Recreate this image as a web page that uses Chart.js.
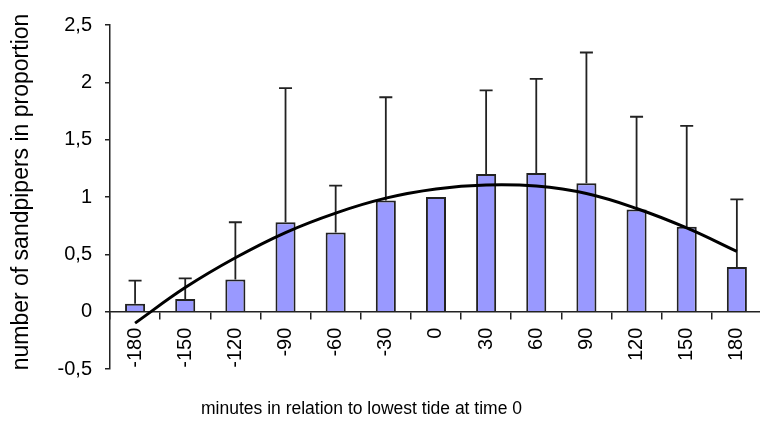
<!DOCTYPE html>
<html><head><meta charset="utf-8">
<script src="https://cdn.jsdelivr.net/npm/chart.js@4"></script>
<style>
html,body{margin:0;padding:0;overflow:hidden;background:#fff;width:760px;height:421px}
#wrap{position:relative;width:770px;height:421px}
</style></head>
<body><div id="wrap"><canvas id="c" width="770" height="421"></canvas></div>
<script>
const categories = ['-180','-150','-120','-90','-60','-30','0','30','60','90','120','150','180'];
const meanValues = [0.07, 0.11, 0.28, 0.78, 0.69, 0.97, 1.00, 1.20, 1.21, 1.12, 0.89, 0.74, 0.39];
const errorTops  = [0.27, 0.29, 0.78, 1.95, 1.10, 1.87, null, 1.93, 2.03, 2.26, 1.70, 1.62, 0.98];
const trendValues = [-0.10, 0.21, 0.47, 0.69, 0.86, 0.99, 1.07, 1.105, 1.095, 1.03, 0.90, 0.73, 0.525];
const yAxisTitle = 'number of sandpipers in proportion';
const xAxisTitle = 'minutes in relation to lowest tide at time 0';

Chart.defaults.font.family = "'Liberation Sans', Arial, sans-serif";
Chart.defaults.color = '#000';

const errorBarPlugin = {
  id: 'errorBars',
  afterDatasetDraw(chart, args) {
    if (args.index !== 0) return;
    const ctx = chart.ctx;
    const meta = chart.getDatasetMeta(0);
    const ys = chart.scales.y;
    ctx.save();
    ctx.strokeStyle = '#222';
    ctx.lineWidth = 1.8;
    meta.data.forEach((bar, i) => {
      const top = errorTops[i];
      if (top == null) return;
      const yTop = ys.getPixelForValue(top);
      const yBase = ys.getPixelForValue(meanValues[i]);
      ctx.beginPath();
      ctx.moveTo(bar.x, yBase);
      ctx.lineTo(bar.x, yTop);
      ctx.moveTo(bar.x - 6.5, yTop);
      ctx.lineTo(bar.x + 6.5, yTop);
      ctx.stroke();
    });
    ctx.restore();
  }
};

const titlePlugin = {
  id: 'axisTitles',
  afterDraw(chart) {
    const ctx = chart.ctx;
    ctx.save();
    ctx.fillStyle = '#000';
    ctx.textAlign = 'center';
    ctx.textBaseline = 'alphabetic';
    ctx.font = "17.5px 'Liberation Sans', Arial, sans-serif";
    ctx.fillText(xAxisTitle, 361.5, 414);
    ctx.translate(28, 192);
    ctx.rotate(-Math.PI / 2);
    ctx.font = "23px 'Liberation Sans', Arial, sans-serif";
    ctx.fillText(yAxisTitle, 0, 0);
    ctx.restore();
  }
};

new Chart(document.getElementById('c'), {
  data: {
    labels: categories,
    datasets: [
      {
        type: 'bar',
        data: meanValues,
        backgroundColor: '#9999ff',
        borderColor: '#222',
        borderWidth: 2,
        barPercentage: 0.4,
        categoryPercentage: 1.0,
        order: 2
      },
      {
        type: 'line',
        data: trendValues,
        borderColor: '#000',
        borderWidth: 3,
        pointRadius: 0,
        tension: 0.4,
        fill: false,
        order: 1
      }
    ]
  },
  options: {
    responsive: false,
    devicePixelRatio: 1,
    animation: false,
    layout: { padding: { left: 0, top: 21, right: 3.5, bottom: 52 } },
    plugins: { legend: { display: false }, tooltip: { enabled: false }, title: { display: false } },
    scales: {
      x: {
        type: 'category',
        position: { y: 0 },
        offset: true,
        afterFit(s) { s.height = 0; },
        grid: { display: true, offset: true, drawOnChartArea: false, drawTicks: true, tickLength: 7, color: '#222', lineWidth: 1.5 },
        border: { display: true, color: '#222', width: 1.5 },
        ticks: { minRotation: 90, maxRotation: 90, padding: 9, font: { size: 20 }, color: '#000', autoSkip: false }
      },
      y: {
        type: 'linear',
        position: 'left',
        min: -0.5,
        max: 2.5,
        afterFit(s) { s.width = 110; },
        grid: { display: true, drawOnChartArea: false, drawTicks: true, tickLength: 5, color: '#222', lineWidth: 1.5 },
        border: { display: true, color: '#222', width: 1.5 },
        ticks: {
          stepSize: 0.5,
          padding: 13,
          font: { size: 20 },
          color: '#000',
          callback: v => String(v).replace('.', ',')
        }
      }
    }
  },
  plugins: [errorBarPlugin, titlePlugin]
});
</script>
</body></html>
